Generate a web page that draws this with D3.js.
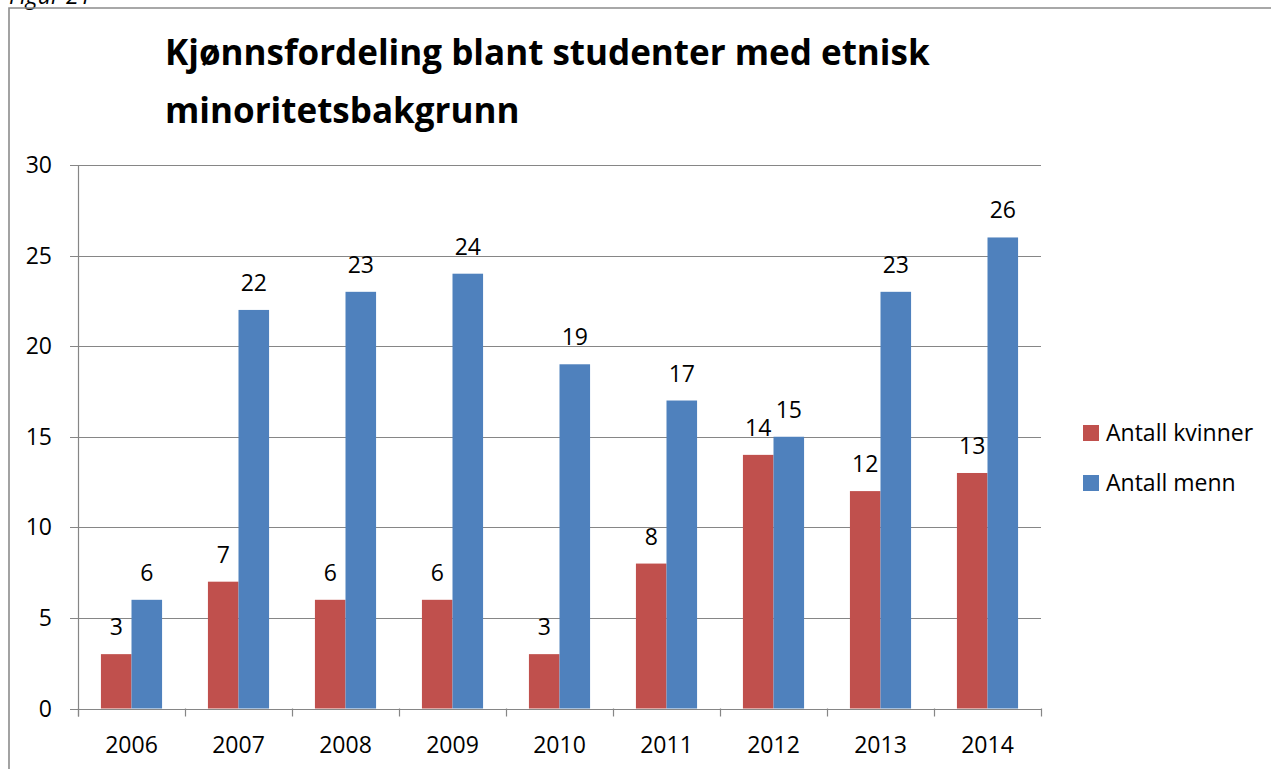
<!DOCTYPE html>
<html>
<head>
<meta charset="utf-8">
<script src="https://cdn.jsdelivr.net/npm/d3@7"></script>
<style>
  body { margin: 0; background: #fff; }
  svg { display: block; font-family: "Open Sans", sans-serif; }
</style>
</head>
<body>
<div id="chart"></div>
<script>
// data
const years = ["2006", "2007", "2008", "2009", "2010", "2011", "2012", "2013", "2014"];
const kvinner = [3, 7, 6, 6, 3, 8, 14, 12, 13];
const menn = [6, 22, 23, 24, 19, 17, 15, 23, 26];
const seriesNames = ["Antall kvinner", "Antall menn"];
const yTicks = [0, 5, 10, 15, 20, 25, 30];

const colors = { "Antall kvinner": "#C0504D", "Antall menn": "#4F81BD" };
const gridColor = "#868686";
const fontSize = 23;

const width = 1271, height = 769;
const margin = { top: 165, right: 230, bottom: 60.5, left: 78 };

const svg = d3.select("#chart")
  .append("svg")
  .attr("width", width)
  .attr("height", height);

// frame and caption (the caption is cut by the page edge, as in the source)
svg.append("text")
  .attr("x", 9)
  .attr("y", 4)
  .attr("font-size", fontSize)
  .attr("font-style", "italic")
  .attr("fill", "#000")
  .text("Figur 21");

svg.append("path")
  .attr("d", `M9,${height + 2} V8 H${width + 2}`)
  .attr("fill", "none")
  .attr("stroke", "#8c8c8c")
  .attr("stroke-width", 1.6);

// title, sized to the width of the original first line
const titleLines = ["Kjønnsfordeling blant studenter med etnisk", "minoritetsbakgrunn"];
const title = svg.append("g").attr("font-weight", "bold").attr("fill", "#000");
const t1 = title.append("text").attr("x", 165).attr("y", 65).attr("font-size", 34).text(titleLines[0]);
const titleSize = 34 * 765 / t1.node().getComputedTextLength();
t1.attr("font-size", titleSize);
title.append("text").attr("x", 165).attr("y", 123).attr("font-size", titleSize).text(titleLines[1]);

// scales
const x0 = d3.scaleBand()
  .domain(years)
  .range([margin.left, 1041])
  .paddingInner(0)
  .paddingOuter(0);

const x1 = d3.scaleBand()
  .domain(seriesNames)
  .range([0, x0.bandwidth()])
  .paddingInner(0)
  .paddingOuter(0.75);

const y = d3.scaleLinear()
  .domain([0, 30])
  .range([height - margin.bottom, margin.top]);

// gridlines with small stubs left of the axis
svg.append("g")
  .selectAll("line")
  .data(yTicks)
  .join("line")
  .attr("x1", margin.left - 8)
  .attr("x2", 1041)
  .attr("y1", d => Math.round(y(d)) + 0.5)
  .attr("y2", d => Math.round(y(d)) + 0.5)
  .attr("stroke", gridColor)
  .attr("stroke-width", 1.2);

svg.append("g")
  .selectAll("text")
  .data(yTicks)
  .join("text")
  .attr("x", 52)
  .attr("y", d => y(d))
  .attr("dy", "0.35em")
  .attr("text-anchor", "end")
  .attr("font-size", fontSize)
  .attr("fill", "#000")
  .text(d => d);

// bars
const rows = years.map((yr, i) => ({ year: yr, values: [kvinner[i], menn[i]] }));

const groups = svg.append("g")
  .selectAll("g")
  .data(rows)
  .join("g")
  .attr("transform", d => `translate(${x0(d.year)},0)`);

groups.selectAll("rect")
  .data(d => d.values.map((v, i) => ({ key: seriesNames[i], value: v })))
  .join("rect")
  .attr("x", d => x1(d.key))
  .attr("y", d => y(d.value))
  .attr("width", x1.bandwidth())
  .attr("height", d => y(0) - y(d.value))
  .attr("fill", d => colors[d.key]);

groups.selectAll("text")
  .data(d => d.values.map((v, i) => ({ key: seriesNames[i], value: v })))
  .join("text")
  .attr("x", d => x1(d.key) + x1.bandwidth() / 2)
  .attr("y", d => y(d.value) - 19)
  .attr("text-anchor", "middle")
  .attr("font-size", fontSize)
  .attr("fill", "#000")
  .text(d => d.value);

// axis lines
const axisColor = gridColor;
svg.append("line")
  .attr("x1", margin.left + 0.5).attr("x2", margin.left + 0.5)
  .attr("y1", y(30)).attr("y2", y(0) + 8)
  .attr("stroke", axisColor).attr("stroke-width", 1.2);

const xAxis = g => g
  .attr("transform", `translate(0,${Math.round(y(0)) + 0.5})`)
  .call(d3.axisBottom(x0).tickSize(0).tickPadding(27))
  .call(g => g.select(".domain").remove())
  .call(g => g.selectAll("text").attr("font-size", fontSize).attr("fill", "#000").attr("font-family", "Open Sans"));

svg.append("g").call(xAxis);

svg.append("g")
  .selectAll("line")
  .data(years.concat(["end"]))
  .join("line")
  .attr("x1", (d, i) => Math.round(margin.left + i * x0.step()) + 0.5)
  .attr("x2", (d, i) => Math.round(margin.left + i * x0.step()) + 0.5)
  .attr("y1", y(0))
  .attr("y2", y(0) + 8)
  .attr("stroke", axisColor)
  .attr("stroke-width", 1.2);

// legend
const legend = svg.append("g")
  .selectAll("g")
  .data(seriesNames)
  .join("g")
  .attr("transform", (d, i) => `translate(1083,${425 + i * 50})`);

legend.append("rect")
  .attr("width", 16)
  .attr("height", 16)
  .attr("fill", d => colors[d]);

legend.append("text")
  .attr("x", 23)
  .attr("y", 8)
  .attr("dy", "0.35em")
  .attr("font-size", fontSize)
  .attr("fill", "#000")
  .text(d => d);
</script>
</body>
</html>
